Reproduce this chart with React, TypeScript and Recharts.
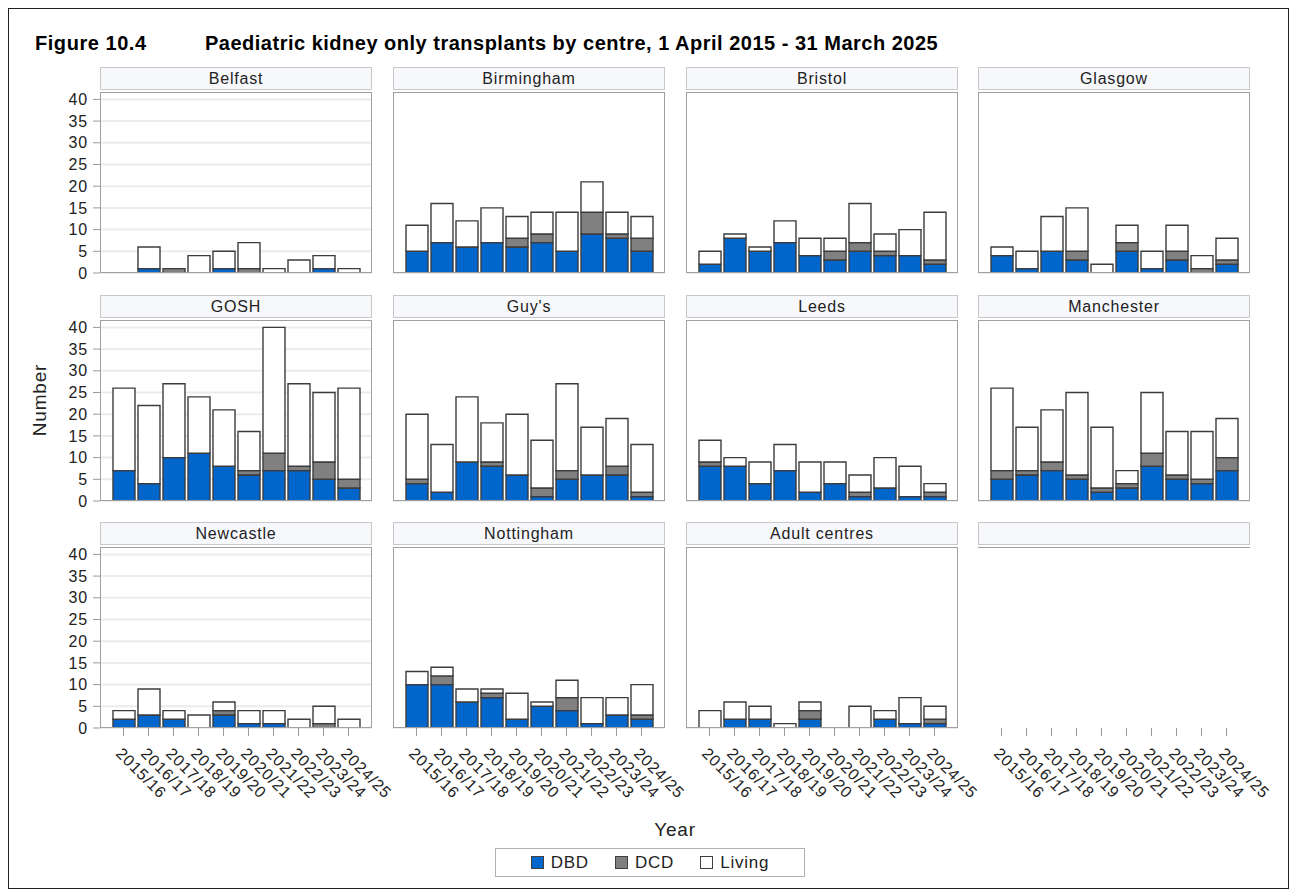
import React from 'react';
import { BarChart, Bar, XAxis, YAxis, CartesianGrid } from 'recharts';

const years = ['2015/16', '2016/17', '2017/18', '2018/19', '2019/20', '2020/21', '2021/22', '2022/23', '2023/24', '2024/25'];
const centres = ['Belfast', 'Birmingham', 'Bristol', 'Glasgow', 'GOSH', "Guy's", 'Leeds', 'Manchester', 'Newcastle', 'Nottingham', 'Adult centres'];

// one row per centre, one value per year
const dbdCounts = [
  [0, 1, 0, 0, 1, 0, 0, 0, 1, 0],
  [5, 7, 6, 7, 6, 7, 5, 9, 8, 5],
  [2, 8, 5, 7, 4, 3, 5, 4, 4, 2],
  [4, 1, 5, 3, 0, 5, 1, 3, 0, 2],
  [7, 4, 10, 11, 8, 6, 7, 7, 5, 3],
  [4, 2, 9, 8, 6, 1, 5, 6, 6, 1],
  [8, 8, 4, 7, 2, 4, 1, 3, 1, 1],
  [5, 6, 7, 5, 2, 3, 8, 5, 4, 7],
  [2, 3, 2, 0, 3, 1, 1, 0, 0, 0],
  [10, 10, 6, 7, 2, 5, 4, 1, 3, 2],
  [0, 2, 2, 0, 2, 0, 0, 2, 1, 1],
];
const dcdCounts = [
  [0, 0, 1, 0, 0, 1, 0, 0, 0, 0],
  [0, 0, 0, 0, 2, 2, 0, 5, 1, 3],
  [0, 0, 0, 0, 0, 2, 2, 1, 0, 1],
  [0, 0, 0, 2, 0, 2, 0, 2, 1, 1],
  [0, 0, 0, 0, 0, 1, 4, 1, 4, 2],
  [1, 0, 0, 1, 0, 2, 2, 0, 2, 1],
  [1, 0, 0, 0, 0, 0, 1, 0, 0, 1],
  [2, 1, 2, 1, 1, 1, 3, 1, 1, 3],
  [0, 0, 0, 0, 1, 0, 0, 0, 1, 0],
  [0, 2, 0, 1, 0, 0, 3, 0, 0, 1],
  [0, 0, 0, 0, 2, 0, 0, 0, 0, 1],
];
const livingCounts = [
  [0, 5, 0, 4, 4, 6, 1, 3, 3, 1],
  [6, 9, 6, 8, 5, 5, 9, 7, 5, 5],
  [3, 1, 1, 5, 4, 3, 9, 4, 6, 11],
  [2, 4, 8, 10, 2, 4, 4, 6, 3, 5],
  [19, 18, 17, 13, 13, 9, 29, 19, 16, 21],
  [15, 11, 15, 9, 14, 11, 20, 11, 11, 11],
  [5, 2, 5, 6, 7, 5, 4, 7, 7, 2],
  [19, 10, 12, 19, 14, 3, 14, 10, 11, 9],
  [2, 6, 2, 3, 2, 3, 3, 2, 4, 2],
  [3, 2, 3, 1, 6, 1, 4, 6, 4, 7],
  [4, 4, 3, 1, 2, 0, 5, 2, 6, 3],
];

const seriesNames = ['DBD', 'DCD', 'Living'];
const seriesColours = ['#0066cc', '#808080', '#ffffff'];
const yTicks = [0, 5, 10, 15, 20, 25, 30, 35, 40];

const FONT = 'Arial, "Liberation Sans", sans-serif';
const colLeft = [100, 393, 686, 978];
const rowTop = [92, 319.5, 547];
const plotW = 272;
const plotH = 181;
const yAxisW = 70;
const xAxisH = 90;
const rightRoom = 45;
const bottomRoom = 12;

function YearTick(props: any) {
  const { x, y, payload } = props;
  return (
    <g transform={`translate(${x},${y + 8}) rotate(45)`}>
      <text x={0} y={0} dy="0.75em" textAnchor="start" fontSize={16} letterSpacing={0.8} fill="#222" fontFamily={FONT}>
        {payload.value}
      </text>
    </g>
  );
}

function Panel({ index }: { index: number }) {
  const col = index % 4;
  const row = Math.floor(index / 4);
  const empty = index >= centres.length;
  const showY = col === 0;
  const showX = row === 2;
  const data = years.map((year, i) =>
    empty
      ? { year }
      : { year, DBD: dbdCounts[index][i], DCD: dcdCounts[index][i], Living: livingCounts[index][i] }
  );
  const left = colLeft[col];
  const top = rowTop[row];
  const padRight = showX ? rightRoom : 0;
  const padBottom = showX ? 0 : bottomRoom;

  return (
    <>
      <div
        style={{
          position: 'absolute',
          left,
          top: top - 25,
          width: plotW,
          height: 23,
          boxSizing: 'border-box',
          background: '#f7f8fc',
          border: '1px solid #c8c8c8',
          fontSize: 16,
          letterSpacing: 0.8,
          color: '#222',
          textAlign: 'center',
          lineHeight: '21px',
        }}
      >
        {empty ? '' : centres[index]}
      </div>
      <div style={{ position: 'absolute', left: left - (showY ? yAxisW : 0), top }}>
        <BarChart
          width={plotW + (showY ? yAxisW : 0) + padRight}
          height={plotH + (showX ? xAxisH : 0) + padBottom}
          data={data}
          barSize={22}
          margin={{ top: 0, right: padRight, bottom: padBottom, left: 0 }}
        >
          {!empty && <CartesianGrid vertical={false} stroke="#ebebeb" strokeWidth={2} />}
          <XAxis
            dataKey="year"
            padding={{ left: 11, right: 11 }}
            hide={!showX}
            height={showX ? xAxisH : 0}
            axisLine={false}
            tickLine={{ stroke: '#999' }}
            tickSize={8}
            interval={0}
            tick={<YearTick />}
          />
          <YAxis
            type="number"
            domain={[0, 41.7]}
            ticks={yTicks}
            interval={0}
            allowDataOverflow
            width={showY ? yAxisW : 0}
            axisLine={false}
            tickLine={showY ? { stroke: '#999' } : false}
            tickSize={7}
            tickMargin={5}
            tick={showY ? { fontSize: 16, fill: '#222', fontFamily: FONT, letterSpacing: 0.8 } : false}
          />
          {!empty &&
            seriesNames.map((s, k) => (
              <Bar
                key={s}
                dataKey={s}
                stackId="a"
                fill={seriesColours[k]}
                stroke="#3c3c3c"
                strokeWidth={1.4}
                isAnimationActive={false}
              />
            ))}
        </BarChart>
      </div>
      <div
        style={{
          position: 'absolute',
          left,
          top,
          width: plotW,
          height: plotH,
          boxSizing: 'border-box',
          border: empty ? 'none' : '1px solid #a0a0a0',
          borderTop: '1px solid #a0a0a0',
          pointerEvents: 'none',
        }}
      />
    </>
  );
}

export default function App() {
  return (
    <div style={{ position: 'absolute', left: 0, top: 0, width: 1295, height: 894, fontFamily: FONT, color: '#222' }}>
      <div
        style={{
          position: 'absolute',
          left: 8,
          top: 8,
          width: 1281,
          height: 881,
          boxSizing: 'border-box',
          border: '1px solid #222',
        }}
      />
      <div style={{ position: 'absolute', left: 35, top: 33, fontSize: 20, fontWeight: 'bold', letterSpacing: 0.55, lineHeight: '20px', color: '#000' }}>
        Figure 10.4
      </div>
      <div style={{ position: 'absolute', left: 205, top: 33, fontSize: 20, fontWeight: 'bold', letterSpacing: 0.5, lineHeight: '20px', color: '#000' }}>
        Paediatric kidney only transplants by centre, 1 April 2015 - 31 March 2025
      </div>
      {Array.from({ length: 12 }, (_, i) => (
        <Panel key={i} index={i} />
      ))}
      <div
        style={{
          position: 'absolute',
          left: 40,
          top: 400,
          transform: 'translate(-50%, -50%) rotate(-90deg)',
          fontSize: 19,
          letterSpacing: 0.8,
          whiteSpace: 'nowrap',
        }}
      >
        Number
      </div>
      <div style={{ position: 'absolute', left: 675, top: 830, transform: 'translate(-50%, -50%)', fontSize: 19, letterSpacing: 0.8 }}>
        Year
      </div>
      <div
        style={{
          position: 'absolute',
          left: 495,
          top: 848,
          width: 310,
          height: 29,
          boxSizing: 'border-box',
          border: '1px solid #b0b0b0',
          display: 'flex',
          alignItems: 'center',
          justifyContent: 'center',
          gap: 26,
          fontSize: 17,
          letterSpacing: 0.8,
        }}
      >
        {seriesNames.map((s, k) => (
          <div key={s} style={{ display: 'flex', alignItems: 'center', gap: 7 }}>
            <div style={{ width: 13, height: 13, boxSizing: 'border-box', background: seriesColours[k], border: '1px solid #404040' }} />
            <span>{s}</span>
          </div>
        ))}
      </div>
    </div>
  );
}
